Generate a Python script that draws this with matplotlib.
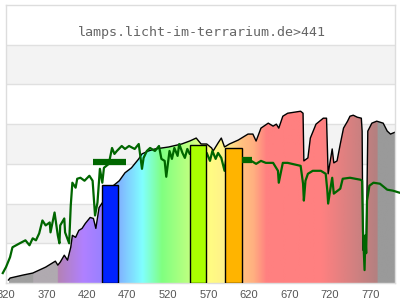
import numpy as np
import matplotlib
matplotlib.use("Agg")
import matplotlib.pyplot as plt
from matplotlib.colors import to_rgb

# ---------------- data ----------------
title = "lamps.licht-im-terrarium.de>441"
tick_values = [320, 370, 420, 470, 520, 570, 620, 670, 720, 770]

spec_nm = [323, 325, 341, 353, 369, 381, 384, 387, 392, 396, 400, 402, 406, 410, 414,
           418, 424, 428, 431, 435, 445, 451, 460, 467, 475, 484, 488, 496, 504, 521,
           537, 547, 555, 561, 568, 574, 576, 582, 586, 590, 596, 607, 619, 625, 629,
           635, 644, 650, 654, 657, 662, 668, 684, 687, 688, 693, 696, 703, 712, 716,
           718, 723, 725, 729, 733, 737, 742, 745, 749, 754, 759, 760, 761, 765, 767,
           772, 778, 786, 791, 795, 798, 801]
spec_val = [3, 5, 8, 10, 16, 22, 18, 21, 28, 23, 36, 48, 46, 53, 55,
            60, 66, 65, 55, 76, 88, 97, 103, 111, 116, 125, 130, 133, 135, 137,
            140, 143, 146, 140, 140, 136, 133, 141, 146, 137, 140, 144, 150, 150, 143,
            156, 161, 158, 160, 156, 168, 171, 173, 171, 123, 126, 146, 160, 166, 166,
            110, 135, 121, 123, 140, 156, 163, 168, 169, 167, 166, 153, 33, 33, 153,
            161, 163, 161, 153, 150, 151, 152]

ref_nm = [316, 320, 325, 328, 337, 344, 349, 353, 357, 361, 365, 369, 374, 375, 380,
          384, 386, 387, 392, 393, 398, 400, 402, 406, 408, 412, 417, 423, 427, 430,
          433, 436, 439, 441, 447, 451, 454, 457, 463, 467, 472, 479, 484, 488, 490,
          494, 498, 504, 509, 512, 516, 518, 522, 525, 528, 532, 534, 538, 541, 544,
          547, 561, 568, 572, 575, 579, 582, 586, 590, 592, 611, 623, 629, 635, 641,
          650, 656, 657, 662, 668, 684, 687, 688, 690, 693, 699, 709, 715, 717, 718,
          721, 723, 725, 733, 736, 745, 758, 760, 761, 763, 764, 765, 766, 769, 774,
          782, 791, 798, 806]
ref_val = [10, 16, 26, 36, 40, 43, 38, 45, 43, 50, 63, 58, 61, 51, 71,
           48, 40, 58, 65, 51, 40, 78, 101, 96, 105, 106, 103, 108, 103, 68,
           81, 115, 101, 116, 120, 136, 130, 133, 138, 135, 138, 135, 140, 115, 126,
           133, 136, 133, 138, 125, 123, 107, 133, 125, 136, 128, 140, 131, 126, 135,
           130, 128, 131, 123, 133, 125, 131, 126, 113, 125, 125, 123, 120, 123, 121,
           121, 113, 101, 121, 121, 118, 100, 83, 103, 110, 113, 113, 110, 93, 80,
           96, 106, 90, 95, 105, 106, 104, 103, 53, 13, 48, 30, 83, 98, 101,
           100, 94, 93, 91]

band_start = [438, 547, 591]
band_end = [458, 567, 611]
band_height = [99, 139, 136]
band_colors = ["#0022ff", "#aaff00", "#ffb400"]

avg_start = [428, 612]
avg_end = [468, 624]
avg_val = [122, 123.5]

grad_nm = [323, 353, 353.1, 383.5, 383.6, 415, 437, 458, 470, 488, 500, 512, 530,
           547, 567, 591, 611, 625, 641, 709, 778, 778.1, 801]
grad_col = ["#9f9f9f", "#9f9f9f", "#b0aab0", "#b0aab0", "#b482b4", "#b080ff", "#9a80ff",
            "#80b0ff", "#80d0ff", "#80ffff", "#80ffc0", "#80ff80", "#a0ff80", "#c0ff80",
            "#ffff80", "#fff08c", "#ffc080", "#ffb080", "#ff8080", "#ff8080", "#b38080",
            "#9a9a9a", "#9a9a9a"]

XMIN, XMAX = 323.4, 800.6
YMAX = 280

# ---------------- figure ----------------
fig = plt.figure(figsize=(4, 3), dpi=100)
ax = fig.add_axes([6 / 400, 17 / 300, 389 / 400, 278 / 300])
ax.set_xlim(XMIN, XMAX)
ax.set_ylim(0, YMAX)

# background bands
for i in range(7):
    if i % 2 == 1:
        ax.axhspan(i * 40, (i + 1) * 40, color="#f3f3f3", lw=0, zorder=0)
for i in range(1, 7):
    ax.axhline(i * 40, color="#e0e0e0", lw=1, zorder=0.5)

# gradient fill under spectrum
xs = np.linspace(XMIN, XMAX, 800)
rgb = np.array([to_rgb(c) for c in grad_col])
img = np.stack([np.interp(xs, grad_nm, rgb[:, k]) for k in range(3)], axis=-1)[None, :, :]
poly = ax.fill_between(spec_nm, spec_val, 0, color="none", lw=0)
im = ax.imshow(img, extent=[XMIN, XMAX, 0, YMAX], aspect="auto", origin="lower",
               interpolation="bilinear", zorder=1)
im.set_clip_path(poly.get_paths()[0], transform=ax.transData)
ax.plot(spec_nm, spec_val, color="black", lw=1.0, zorder=2)

# reference spectrum
ax.plot(ref_nm, ref_val, color="#006600", lw=1.6, zorder=3, clip_on=False)

# band bars
for s, e, h, c in zip(band_start, band_end, band_height, band_colors):
    ax.bar(s, h, width=e - s, align="edge", color=c, edgecolor="black", lw=1.0, zorder=4)

# band averages
for s, e, v in zip(avg_start, avg_end, avg_val):
    ax.plot([s, e], [v, v], color="#006600", lw=4.5, solid_capstyle="butt", zorder=5)

# title
ax.text((XMIN + XMAX) / 2, 252, title, ha="center", va="center",
        family="DejaVu Sans Mono", fontsize=9.6, color="#666666", zorder=6)

# axes styling
for sp in ax.spines.values():
    sp.set_color("#dddddd")
    sp.set_linewidth(1)
ax.set_yticks([])
ax.set_xticks(tick_values)
ax.set_xticklabels([str(v) for v in tick_values], family="Liberation Sans",
                   fontsize=8, color="#555555")
ax.tick_params(axis="x", length=0, pad=5)

fig.savefig("out.png", dpi=100)
